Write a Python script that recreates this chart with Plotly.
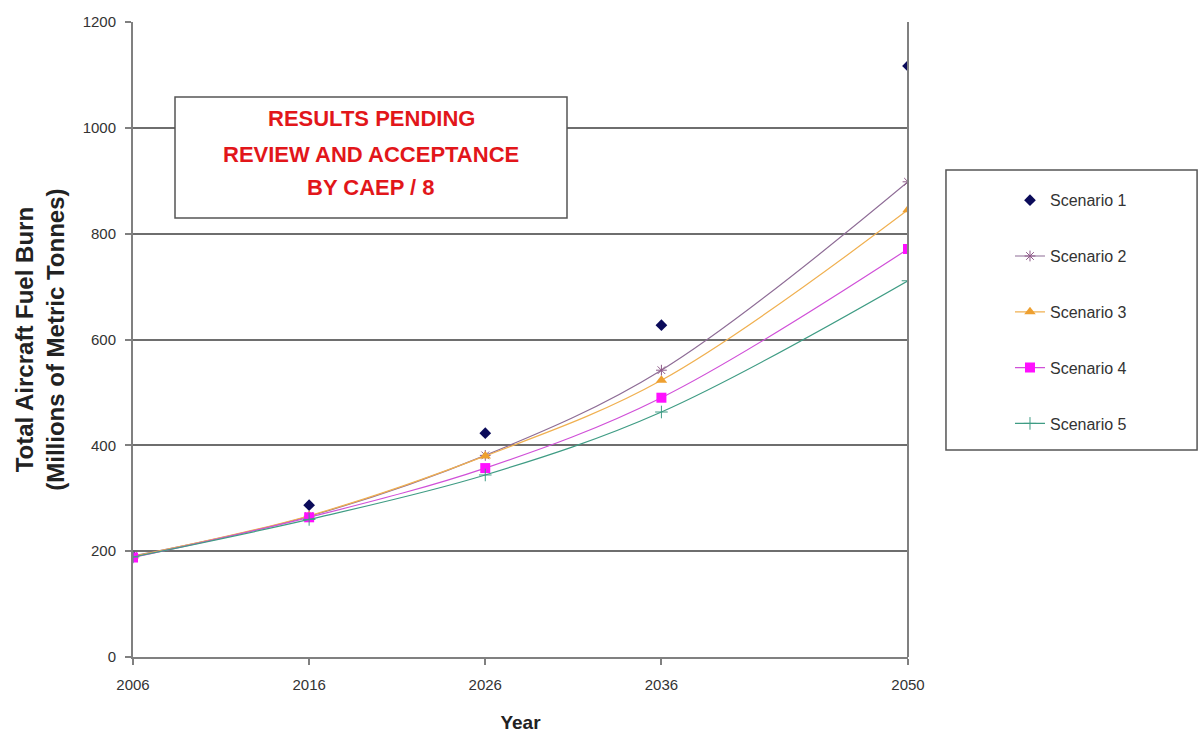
import plotly.graph_objects as go

years = [2006, 2016, 2026, 2036, 2050]
scenario_1 = [190, 287, 423, 627, 1117]
scenario_2 = [191, 266, 381, 542, 898]
scenario_3 = [190, 267, 380, 523, 845]
scenario_4 = [188, 264, 357, 490, 771]
scenario_5 = [189, 260, 344, 463, 711]

y_ticks = [0, 200, 400, 600, 800, 1000, 1200]
x_ticks = [2006, 2016, 2026, 2036, 2050]

notice_lines = ["RESULTS PENDING", "REVIEW AND ACCEPTANCE", "BY CAEP / 8"]

FONT = "Liberation Sans, Arial, sans-serif"

fig = go.Figure()

fig.add_trace(go.Scatter(
    x=years, y=scenario_1, name="Scenario 1", mode="markers",
    marker=dict(symbol="diamond", size=9, color="#0b0b5a"),
    legendgroup="s1",
))
fig.add_trace(go.Scatter(
    x=years, y=scenario_2, name="Scenario 2", mode="lines+markers",
    line=dict(color="#8e6c96", width=1.2, shape="spline", smoothing=1),
    marker=dict(symbol="asterisk-open", size=9, color="#8e5a88", line=dict(width=1, color="#8e5a88")),
    legendgroup="s2",
))
fig.add_trace(go.Scatter(
    x=years, y=scenario_3, name="Scenario 3", mode="lines+markers",
    line=dict(color="#f0b050", width=1.2, shape="spline", smoothing=1),
    marker=dict(symbol="triangle-up", size=10, color="#eea030"),
    legendgroup="s3",
))
fig.add_trace(go.Scatter(
    x=years, y=scenario_4, name="Scenario 4", mode="lines+markers",
    line=dict(color="#d050d8", width=1.2, shape="spline", smoothing=1),
    marker=dict(symbol="square", size=10, color="#ff10ff"),
    legendgroup="s4",
))
fig.add_trace(go.Scatter(
    x=years, y=scenario_5, name="Scenario 5", mode="lines+markers",
    line=dict(color="#3f9c84", width=1.2, shape="spline", smoothing=1),
    marker=dict(symbol="cross-thin-open", size=9, color="#3f9c84", line=dict(width=1, color="#3f9c84")),
    legendgroup="s5",
))

fig.update_layout(
    width=1200, height=739,
    margin=dict(l=133, r=292, t=22, b=82),
    paper_bgcolor="white", plot_bgcolor="white",
    font=dict(family=FONT, size=15, color="#333333"),
    showlegend=True,
    legend=dict(
        x=1.1316, y=0.746, xanchor="left", yanchor="top",
        bgcolor="rgba(0,0,0,0)", borderwidth=0,
        font=dict(family=FONT, size=16, color="#333333"),
        tracegroupgap=32, itemwidth=30,
    ),
    xaxis=dict(
        range=[2006, 2050], tickvals=x_ticks, ticktext=[str(v) for v in x_ticks],
        showgrid=False, zeroline=False, automargin=False,
        showline=True, linecolor="#808080", linewidth=2,
        ticks="outside", ticklen=6, tickcolor="#808080", tickwidth=1.5,
        ticklabelstandoff=7,
        title=dict(text="<b>Year</b>", font=dict(family=FONT, size=19, color="#222222"), standoff=24),
        tickfont=dict(family=FONT, size=15, color="#333333"),
    ),
    yaxis=dict(
        range=[0, 1200], tickvals=y_ticks,
        showgrid=True, gridcolor="#6e6e6e", gridwidth=2,
        zeroline=False, automargin=False,
        showline=True, linecolor="#808080", linewidth=2,
        ticks="outside", ticklen=6, tickcolor="#808080", tickwidth=1.5,
        ticklabelstandoff=6,
        tickfont=dict(family=FONT, size=15, color="#333333"),
    ),
)

# right-hand frame edge at the last year
fig.add_shape(type="line", xref="paper", yref="paper", x0=1, x1=1, y0=0, y1=1,
              line=dict(color="#808080", width=2))

# legend frame
fig.add_shape(type="rect", xref="paper", yref="paper",
              x0=1.049, x1=1.373, y0=0.326, y1=0.767,
              line=dict(color="#555555", width=1.5), fillcolor="rgba(0,0,0,0)")

# status notice box
fig.add_shape(type="rect", xref="paper", yref="paper",
              x0=0.0542, x1=0.560, y0=0.6913, y1=0.8819,
              line=dict(color="#555555", width=1.5), fillcolor="white", layer="above")
for line_text, y_pos in zip(notice_lines, [0.8488, 0.7921, 0.7386]):
    fig.add_annotation(
        xref="paper", yref="paper", x=0.3071, y=y_pos,
        xanchor="center", yanchor="middle", showarrow=False,
        text="<b>" + line_text + "</b>",
        font=dict(family=FONT, size=22, color="#e2161a"),
    )

# y-axis title
fig.add_annotation(
    xref="paper", yref="paper", x=-0.121, y=0.5, xanchor="center", yanchor="middle",
    showarrow=False, textangle=-90,
    text="<b>Total Aircraft Fuel Burn<br>(Millions of Metric Tonnes)</b>",
    font=dict(family=FONT, size=24, color="#222222"), align="center",
)

fig.write_html("out.html")
